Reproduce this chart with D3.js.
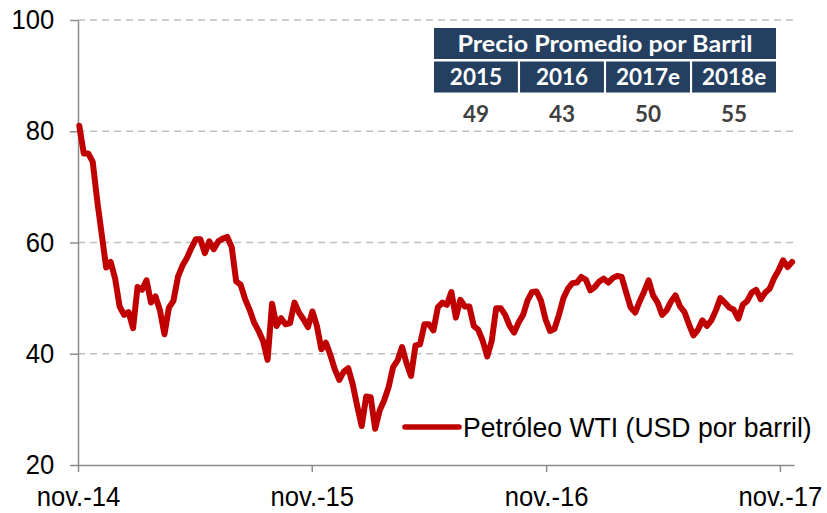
<!DOCTYPE html>
<html><head><meta charset="utf-8">
<script src="https://cdn.jsdelivr.net/npm/d3@7"></script>
<style>body{margin:0;background:#fff} svg{display:block}</style>
</head><body><svg id="c" width="827" height="513"></svg>
<script>
// ---- data ----
const weekStart = "2014-11-03", weekEnd = "2017-11-21"; // weekly (Mondays)
const wtiValues = [
 81, 76, 76, 74.5, 67.5, 61.5, 55.5, 56.5, 53.5, 48.5,
 47, 47.5, 44.6, 52, 51.5, 53.2, 49.2, 50.3, 47.8, 43.5,
 48.3, 49.5, 53.8, 55.8, 57.2, 59, 60.6, 60.6, 58.1, 60.2,
 58.8, 60.2, 60.7, 61, 59.2, 53, 52.4, 49.8, 47.9, 45.6,
 44.1, 42.3, 38.9, 49, 45, 46.4, 45.3, 45.5, 49.2, 47.4,
 46.2, 44.8, 47.6, 45, 40.8, 42, 39.8, 37.2, 35.3, 36.8,
 37.4, 34.5, 30.6, 27, 32.3, 32.2, 26.5, 29.8, 31.6, 34,
 37.6, 38.8, 41.2, 38.3, 36, 41.5, 41.7, 45.3, 45.3, 44.2,
 48.4, 49.2, 48.8, 51.1, 46.5, 49.7, 48.5, 48.5, 45, 44.3,
 42.3, 39.5, 42.3, 48.2, 48.2, 47, 45, 43.8, 45.6, 47,
 49.6, 51.1, 51.2, 49.5, 46.2, 44.1, 44.5, 47, 50, 51.7,
 52.7, 52.8, 53.8, 53.3, 51.4, 52, 53, 53.5, 52.8, 53.6,
 54, 53.8, 51, 48.3, 47.4, 49.4, 51.2, 53.2, 50.5, 49.2,
 47, 47.8, 49.4, 50.5, 48.5, 47.5, 45.3, 43.3, 44.3, 46,
 45, 46, 47.8, 50, 49.2, 48.3, 47.9, 46.3, 48.8, 49.5,
 51, 51.5, 49.8, 51, 51.7, 53.6, 55, 56.8, 55.6, 56.5
];
const yTicks = [20, 40, 60, 80, 100];
const gridTicks = [40, 60, 80, 100];
const xTickDates = ["2014-11-01", "2015-11-01", "2016-11-01", "2017-11-01"];
const xTickLabels = ["nov.-14", "nov.-15", "nov.-16", "nov.-17"];
const xDomain = ["2014-11-01", "2017-11-23"];
const tableTitle = "Precio Promedio por Barril";
const tableYears = ["2015", "2016", "2017e", "2018e"];
const tableValues = [49, 43, 50, 55];
const legendLabel = "Petróleo WTI (USD por barril)";

// ---- chart ----
const parse = d3.timeParse("%Y-%m-%d");
const dates = d3.timeMonday.range(parse(weekStart), parse(weekEnd));
const series = wtiValues.map((v, i) => ({date: dates[i], v})).filter(d => d.date);

const svg = d3.select("#c");
const FONT = "'Liberation Sans', Arial, sans-serif";
const SX = 0.95;
const x = d3.scaleTime().domain(xDomain.map(parse)).range([78, 794]);
const y = d3.scaleLinear().domain([20, 100]).range([465, 20]);

// grid
svg.append("g").selectAll("line").data(gridTicks).join("line")
  .attr("x1", 78).attr("x2", 795)
  .attr("y1", d => y(d)).attr("y2", d => y(d))
  .attr("stroke", "#bfbfbf").attr("stroke-width", 1.5)
  .attr("stroke-dasharray", "7,5");

// y axis
const gy = svg.append("g").attr("transform", "translate(78,0)")
  .call(d3.axisLeft(y).tickValues(yTicks).tickSize(8).tickSizeOuter(0).tickPadding(17).tickFormat(d3.format("d")));
gy.select(".domain").attr("stroke", "#8c8c8c").attr("stroke-width", 1.5);
gy.selectAll(".tick line").attr("stroke", "#8c8c8c").attr("stroke-width", 1.5);
gy.selectAll(".tick text").attr("font-family", FONT).attr("font-size", 27).attr("fill", "#000")
  .attr("transform", `scale(${SX},1)`);

// x axis
const gx = svg.append("g").attr("transform", "translate(0,465)")
  .call(d3.axisBottom(x).tickValues(xTickDates.map(parse)).tickSize(7).tickSizeOuter(0).tickPadding(15)
    .tickFormat((d, i) => xTickLabels[i]));
gx.select(".domain").attr("stroke", "#8c8c8c").attr("stroke-width", 1.5);
gx.selectAll(".tick line").attr("stroke", "#8c8c8c").attr("stroke-width", 1.5);
gx.selectAll(".tick text").attr("font-family", FONT).attr("font-size", 27).attr("fill", "#000")
  .attr("transform", `scale(${SX},1)`);

// line
svg.append("path").datum(series)
  .attr("fill", "none").attr("stroke", "#c00000").attr("stroke-width", 6)
  .attr("stroke-linejoin", "round").attr("stroke-linecap", "round")
  .attr("d", d3.line().x(d => x(d.date)).y(d => y(d.v)));

// table
const tb = svg.append("g");
const col = d3.scaleBand().domain(tableYears).range([434, 776]).paddingInner(0.025);
const NAVY = "#243f60";
const TFONT = "Lato, 'Open Sans', sans-serif";
tb.append("rect").attr("x", 434).attr("y", 28).attr("width", 342).attr("height", 31).attr("fill", NAVY);
tb.append("text").attr("x", 605).attr("y", 52).attr("text-anchor", "middle")
  .attr("font-family", TFONT).attr("font-weight", 700).attr("font-size", 23).attr("fill", "#fff")
  .attr("textLength", 295).attr("lengthAdjust", "spacingAndGlyphs")
  .text(tableTitle);
tb.selectAll("rect.yr").data(tableYears).join("rect").attr("class", "yr")
  .attr("x", d => col(d)).attr("y", 61.5).attr("width", col.bandwidth()).attr("height", 31).attr("fill", NAVY);
tb.selectAll("text.yr").data(tableYears).join("text").attr("class", "yr")
  .attr("x", d => col(d) + col.bandwidth() / 2).attr("y", 85).attr("text-anchor", "middle")
  .attr("font-family", TFONT).attr("font-weight", 700).attr("font-size", 22.5).attr("fill", "#fff")
  .text(d => d);
tb.selectAll("text.val").data(tableValues).join("text").attr("class", "val")
  .attr("x", (d, i) => col(tableYears[i]) + col.bandwidth() / 2).attr("y", 122).attr("text-anchor", "middle")
  .attr("font-family", TFONT).attr("font-weight", 700).attr("font-size", 22.5).attr("fill", "#404040")
  .text(d => d);

// legend
const lg = svg.append("g").attr("transform", "translate(405,427)");
lg.append("line").attr("x1", 0).attr("x2", 54).attr("y1", 0).attr("y2", 0)
  .attr("stroke", "#c00000").attr("stroke-width", 5.5).attr("stroke-linecap", "round");
lg.append("text").attr("transform", `translate(58,10) scale(0.95,1)`)
  .attr("font-family", FONT).attr("font-size", 28).attr("fill", "#000").text(legendLabel);
</script></body></html>
